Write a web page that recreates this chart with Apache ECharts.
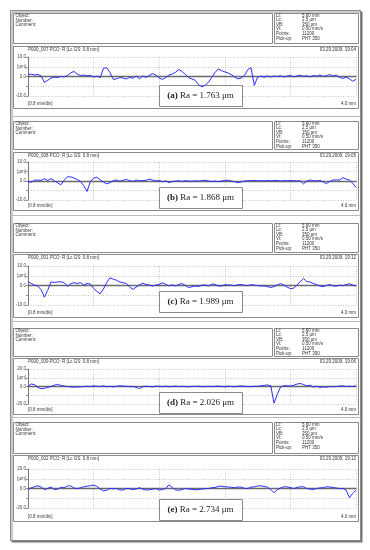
<!DOCTYPE html>
<html><head><meta charset="utf-8">
<script src="https://cdn.jsdelivr.net/npm/echarts@6/dist/echarts.min.js"></script>
<style>html,body{margin:0;padding:0;background:#fff}#c{width:370px;height:550px}</style>
</head><body><div id="c"></div>
<script>
// sample positions along the profile (mm)
const xs = [0,0.04,0.08,0.12,0.16,0.2,0.24,0.28,0.32,0.36,0.4,0.44,0.48,0.52,0.56,0.6,0.64,0.68,0.72,0.76,
0.8,0.84,0.88,0.92,0.96,1,1.04,1.08,1.12,1.16,1.2,1.24,1.28,1.32,1.36,1.4,1.44,1.48,1.52,1.56,
1.6,1.64,1.68,1.72,1.76,1.8,1.84,1.88,1.92,1.96,2,2.04,2.08,2.12,2.16,2.2,2.24,2.28,2.32,2.36,
2.4,2.44,2.48,2.52,2.56,2.6,2.64,2.68,2.72,2.76,2.8,2.84,2.88,2.92,2.96,3,3.04,3.08,3.12,3.16,
3.2,3.24,3.28,3.32,3.36,3.4,3.44,3.48,3.52,3.56,3.6,3.64,3.68,3.72,3.76,3.8,3.84,3.88,3.92,3.96,4];

const profileA = [1.0,1.2,0.8,1.0,0.3,-3.0,-2.0,-0.8,-0.3,-0.6,
0.0,-0.2,0.5,1.8,2.6,1.2,0.5,0.8,0.3,0.6,
-0.3,0.2,-0.6,4.2,4.5,2.0,-1.5,-1.2,-0.5,-0.8,
-1.3,-0.4,-0.9,0.2,-1.2,0.3,-0.5,0.6,1.5,0.8,
-0.8,-1.5,-0.5,0.8,1.3,2.2,3.6,2.5,1.0,-0.6,
-1.2,-2.0,-4.2,-5.3,-4.5,-3.0,-0.5,2.0,3.9,3.0,
2.4,1.8,1.0,-0.3,-1.2,-0.8,0.5,3.5,4.5,-4.6,
-0.3,0.2,-0.4,0.3,-0.2,0.2,0.0,0.4,-0.3,0.2,
0.5,-0.2,0.3,0.6,0.1,0.4,-0.2,0.5,0.2,0.8,
0.0,0.5,1.0,0.3,0.7,-0.5,-1.0,-0.3,-1.2,-2.4,
-1.5];

const profileB = [-0.3,-0.6,0.4,0.5,0.3,1.2,0.3,1.3,0.1,-1.0,
-2.0,0.3,2.2,2.2,1.6,0.8,-0.2,-2.5,-5.5,-0.3,
1.5,2.0,0.6,-0.6,-1.5,-0.9,0.2,0.5,-0.2,0.4,
0.8,0.2,-0.3,0.5,0.1,0.2,0.4,1.0,0.5,0.0,
0.2,-0.3,0.0,-0.8,-0.3,0.0,0.1,-0.2,0.2,0.0,
-0.2,0.1,-0.1,0.2,0.4,0.0,-0.3,0.0,-0.4,0.0,
0.3,0.4,0.0,-0.4,-0.9,-0.5,0.0,0.2,0.1,0.3,
0.1,0.2,0.0,0.3,0.1,0.2,0.3,0.0,0.2,0.1,
0.3,0.2,0.0,0.1,-1.5,0.0,0.5,0.2,0.0,0.3,
-0.5,-1.4,-0.2,0.5,0.6,0.5,1.8,1.0,0.5,-1.2,
-3.4];

const profileC = [1.9,1.0,0.2,-0.3,-2.2,-6.0,-2.5,1.8,1.6,1.8,
1.9,1.5,-0.5,0.8,1.5,1.0,1.5,0.2,1.0,0.8,
-1.5,-3.0,-4.3,-1.8,1.5,4.0,3.2,2.7,1.8,1.4,
1.0,-0.8,-2.0,-0.8,0.3,1.2,0.5,0.2,-0.3,0.2,
0.6,1.4,0.6,-0.2,0.4,-0.3,0.6,1.0,0.0,-1.1,
-0.6,-0.2,-0.5,0.2,0.3,-0.3,0.7,0.6,-0.2,-0.3,
0.4,0.3,0.2,-0.2,0.4,0.5,0.1,-0.1,0.4,0.2,
0.0,-0.3,-0.2,-0.6,-1.0,-0.6,0.3,1.0,0.3,-0.8,
-1.6,-1.4,0.3,2.0,3.6,2.0,1.8,1.0,0.5,-0.3,
-0.6,0.0,0.5,-0.2,-0.3,0.2,-0.1,0.5,0.9,0.3,
-0.3];

const profileD = [0.0,3.0,2.0,-1.0,-2.6,-2.0,-1.0,0.0,1.5,2.4,
1.2,0.5,0.0,-0.5,-0.8,-0.4,-0.5,0.0,0.3,0.0,
0.6,0.3,0.0,0.8,-0.3,0.2,-0.5,0.3,0.8,0.5,
0.2,-0.3,0.0,-1.0,-2.4,-0.3,0.3,0.0,-0.4,0.5,
0.2,-0.2,0.4,-0.3,0.0,0.5,-0.2,0.3,0.0,-0.5,
0.2,0.0,0.4,-0.2,0.0,0.3,-0.2,0.2,0.5,0.0,
-0.3,0.3,0.0,-0.4,0.3,0.6,0.2,0.0,-0.2,0.3,
0.2,0.8,1.3,1.8,1.0,-19.0,-9.0,-0.5,1.0,0.7,
0.6,1.4,2.8,3.5,2.2,0.8,1.6,-0.7,0.3,-1.0,
-0.5,-0.8,0.0,-0.3,0.0,0.5,0.8,0.0,0.3,0.0,
0.6];

const profileE = [-1.0,0.7,1.8,2.8,1.5,-1.0,0.0,1.7,-1.0,-0.8,
1.3,0.7,2.5,2.8,0.5,0.0,0.7,1.7,2.4,2.8,
3.5,2.2,-0.5,-2.3,-1.8,0.0,-0.3,0.0,-1.4,-1.6,
0.0,-0.3,-1.0,-0.5,0.8,-0.6,-1.6,-1.2,-0.8,0.0,
-1.7,-1.0,0.0,3.8,1.0,-1.5,-1.8,-1.0,0.0,-0.6,
-0.8,-1.3,-1.2,-0.6,-0.2,0.0,0.8,1.0,2.2,2.4,
1.8,1.6,1.2,0.8,1.5,1.4,0.2,0.0,1.5,1.6,
2.6,2.8,2.0,1.5,-1.0,-4.4,-1.2,0.5,1.8,1.6,
1.0,0.0,1.0,1.7,1.8,0.0,-0.6,-1.0,0.0,0.6,
0.8,1.8,1.5,1.0,0.5,0.0,0.0,-1.6,-9.5,-5.0,
-1.8];

const profiles = [profileA, profileB, profileC, profileD, profileE];
const yRanges = [10, 10, 10, 20, 20];
const yTickTexts = [
  {'10':'10.0','5':'[µm]','0':'0.0','-10':'-10.0'},
  {'10':'10.0','5':'[µm]','0':'0.0','-10':'-10.0'},
  {'10':'10.0','5':'[µm]','0':'0.0','-10':'-10.0'},
  {'20':'20.0','10':'[µm]','0':'0.0','-20':'-20.0'},
  {'20':'20.0','10':'[µm]','0':'0.0','-20':'-20.0'}
];
const panelIds = ['P000_007','P000_008','P000_001','P000_009','P000_002'];
const panelDates = ['03.29.2009, 19:04','03.29.2009, 19:05','03.29.2009, 19:12','03.29.2009, 19:06','03.29.2009, 19:12'];
const raLetters = ['(a)','(b)','(c)','(d)','(e)'];
const raValues = ['1.763','1.868','1.989','2.026','2.734'];
const headerLabels = ['Object:','Number:','Comment:'];
const infoLabels = ['Lt:','Lc:','VB:','Vt:','Points:','Pick-up:'];
const infoValues = ['5.60 mm','2.5 µm','350 µm','0.50 mm/s','11200','PHT 350'];

// layout (pixels)
const layout = [
  {hdr:13, hdrH:30, box:46, boxH:62, gTop:57, gH:39, ra:85},
  {hdr:121, hdrH:28, box:152, boxH:58, gTop:162, gH:38, ra:187},
  {hdr:223, hdrH:29, box:254, boxH:63, gTop:266, gH:39, ra:291},
  {hdr:328, hdrH:28, box:358, boxH:56, gTop:369, gH:35, ra:392},
  {hdr:422, hdrH:31, box:455, boxH:66, gTop:469, gH:39, ra:499}
];
const separators = [116, 215, 321, 417];

const SANS = '"Liberation Sans", Arial, sans-serif';
const SERIF = '"Liberation Serif", "Times New Roman", serif';
const small = '4.5px ' + SANS;

const grids = [], xAxes = [], yAxes = [], series = [], graphics = [];

graphics.push({type:'rect', z:0, shape:{x:10.5, y:10.5, width:350, height:530},
  style:{fill:'#fff', stroke:'#8a8a8a', lineWidth:1, shadowBlur:1, shadowOffsetX:1.5, shadowOffsetY:1.5, shadowColor:'rgba(0,0,0,0.45)'}});
separators.forEach(y => graphics.push({type:'line', z:0.5, shape:{x1:10.5, y1:y+0.5, x2:360.5, y2:y+0.5}, style:{stroke:'#bbb', lineWidth:1}}));

function txt(x, y, text, align, font, z) {
  return {type:'text', z: z || 1.5, x:x, y:y, style:{text:text, fill:'#333', font:font || small, textAlign:align || 'left', textVerticalAlign:'middle', verticalAlign:'middle'}};
}

layout.forEach((L, i) => {
  const R = yRanges[i];
  grids.push({left:28, right:14, top:L.gTop, height:L.gH, containLabel:false});
  xAxes.push({type:'value', gridIndex:i, min:0, max:4, interval:0.8, z:2,
    axisLine:{show:true, onZero:true, lineStyle:{color:'#6a6a6a', width:1.3}},
    axisTick:{show:false}, axisLabel:{show:false},
    splitLine:{show:true, lineStyle:{color:'#b0b0b0', type:[1,1.5], width:0.7}}});
  yAxes.push({type:'value', gridIndex:i, min:-R, max:R, interval:R/2, z:2,
    axisLine:{show:true, onZero:false, lineStyle:{color:'#777', width:1}},
    axisTick:{show:true, length:2, lineStyle:{color:'#777', width:0.8}},
    axisLabel:{fontSize:4.5, color:'#444', margin:2, fontFamily:SANS,
      formatter: v => yTickTexts[i][String(v)] || ''},
    splitLine:{show:true, lineStyle:{color:'#b0b0b0', type:[1,1.5], width:0.7}}});
  series.push({type:'line', xAxisIndex:i, yAxisIndex:i, z:4, symbol:'none', showSymbol:false,
    data: xs.map((x, j) => [x, profiles[i][j]]),
    lineStyle:{color:'#2b2bff', width:1}, animation:false});

  // header boxes
  graphics.push({type:'rect', z:1, shape:{x:13.5, y:L.hdr+0.5, width:259, height:L.hdrH}, style:{fill:'#fff', stroke:'#8a8a8a', lineWidth:1}});
  graphics.push({type:'rect', z:1, shape:{x:274.5, y:L.hdr+0.5, width:84, height:L.hdrH}, style:{fill:'#fff', stroke:'#8a8a8a', lineWidth:1}});
  graphics.push({type:'rect', z:1, shape:{x:13.5, y:L.box+0.5, width:345, height:L.boxH}, style:{fill:'#fff', stroke:'#8a8a8a', lineWidth:1}});
  headerLabels.forEach((t, k) => graphics.push(txt(15.5, L.hdr + 2.8 + k*4.6, t)));
  infoLabels.forEach((t, k) => {
    graphics.push(txt(276, L.hdr + 2.3 + k*4.6, t));
    graphics.push(txt(302, L.hdr + 2.3 + k*4.6, infoValues[k]));
  });
  graphics.push(txt(28, L.box + 3.5, panelIds[i] + ' PCO: R [Lc GS: 0.8 mm]'));
  graphics.push(txt(356, L.box + 3.5, panelDates[i], 'right'));
  graphics.push(txt(28, L.box + L.boxH - 4, '[0.8 mm/div]'));
  graphics.push(txt(356, L.box + L.boxH - 4, '4.0 mm', 'right'));

  // Ra label box
  graphics.push({type:'rect', z:3, shape:{x:159.5, y:L.ra+0.5, width:83, height:21}, style:{fill:'#fff', stroke:'#8a8a8a', lineWidth:1}});
  graphics.push({type:'text', z:3.5, x:200.5, y:L.ra + 11, style:{
    text:'{b|' + raLetters[i] + '} Ra = ' + raValues[i] + ' μm',
    rich:{b:{fontWeight:'bold', fontFamily:SERIF, fontSize:9, fill:'#222'}},
    font:'9px ' + SERIF, fill:'#222', textAlign:'center', textVerticalAlign:'middle', verticalAlign:'middle'}});
});

const chart = echarts.init(document.getElementById('c'), null, {renderer:'canvas'});
chart.setOption({
  animation:false,
  backgroundColor:'#fff',
  grid: grids, xAxis: xAxes, yAxis: yAxes, series: series,
  graphic: {elements: graphics}
});
</script>
</body></html>
